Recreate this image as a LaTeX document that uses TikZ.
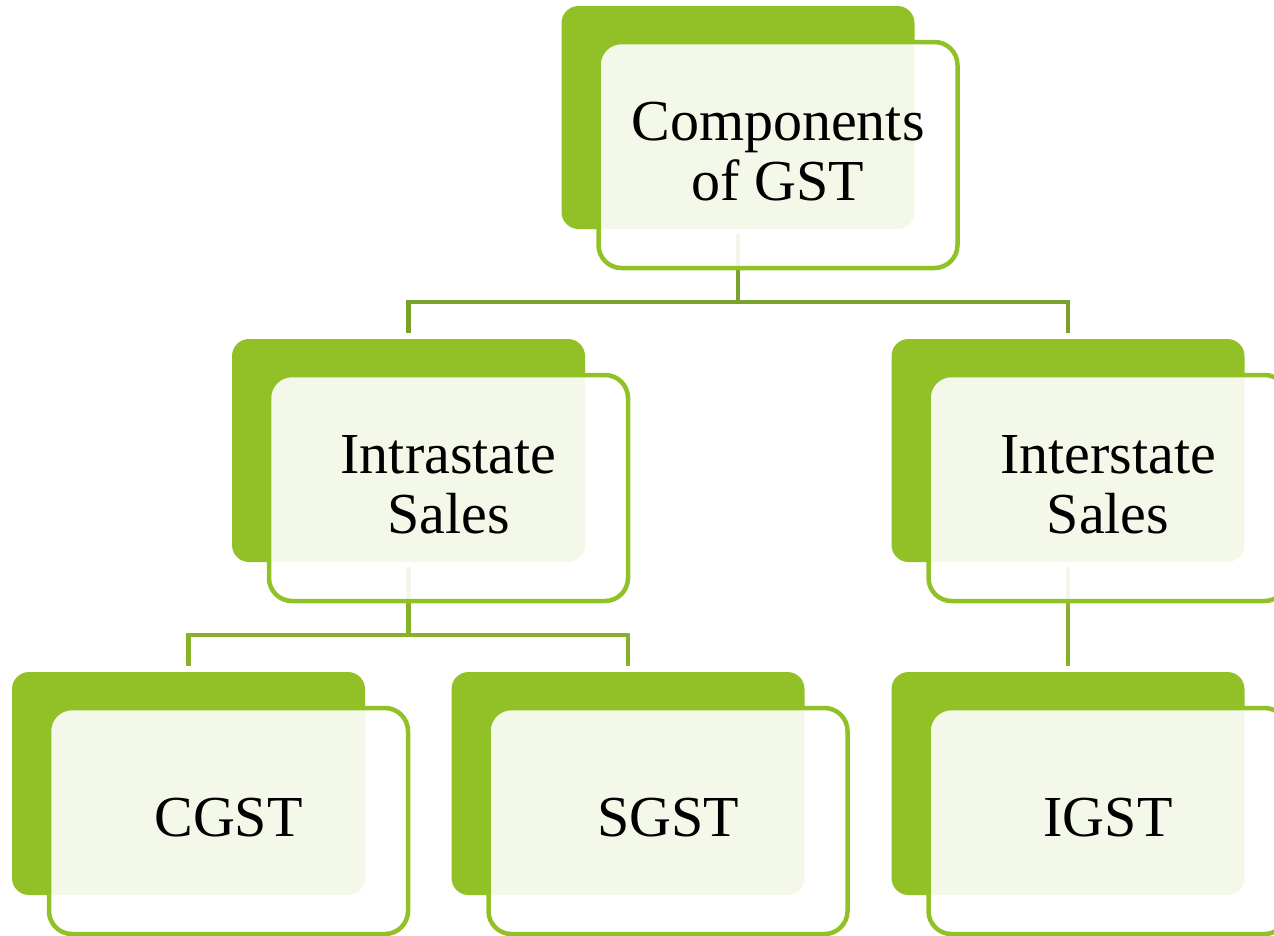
\documentclass[tikz,border=0pt]{standalone}
\usepackage{fontspec}
\setmainfont{Liberation Serif}
\usetikzlibrary{calc}
\definecolor{leafgreen}{HTML}{92C127}
\definecolor{stemdark}{HTML}{78A22A}
\definecolor{stemlight}{HTML}{86B22A}
\tikzset{
  backbox/.style={rectangle,rounded corners=17pt,fill=leafgreen,minimum width=353pt,minimum height=223pt,inner sep=0pt},
  frontbox/.style={rectangle,rounded corners=23pt,draw=leafgreen,line width=4.5pt,fill=white,fill opacity=.9,text opacity=1,
    minimum width=359pt,minimum height=226pt,inner sep=0pt,align=center,text depth=7pt,font=\fontsize{58}{60}\selectfont},
  topline/.style={draw=stemdark,line width=4.5pt},
  subline/.style={draw=stemlight,line width=4.5pt}
}

\begin{document}
\begin{tikzpicture}[x=1pt,y=-1pt]
\useasboundingbox (0,0) rectangle (1274,935);
%back tiles
\node[backbox] (gstb) at (738,117.5) {};
\node[backbox] (intrab) at (408.5,450.5) {};
\node[backbox] (interb) at (1068,450.5) {};
\node[backbox] (cgstb) at (188.5,783.5) {};
\node[backbox] (sgstb) at (628,783.5) {};
\node[backbox] (igstb) at (1068,783.5) {};
%connectors
\coordinate (fork1) at (738,302);
\coordinate (fork2) at (408.5,635);
\draw[topline] ([yshift=-5pt]gstb.south) -- (fork1);
\draw[topline] ([yshift=6pt]intrab.north) |- (fork1) -| ([yshift=6pt]interb.north);
\draw[subline] ([yshift=-5pt]intrab.south) -- (fork2);
\draw[subline] ([yshift=6pt]cgstb.north) |- (fork2) -| ([yshift=6pt]sgstb.north);
\draw[subline] ([yshift=-5pt]interb.south) -- ([yshift=6pt]igstb.north);
%front tiles
\node[frontbox] (gst) at (778,155) {Components\\of GST};
\node[frontbox] (intra) at (448.5,488) {Intrastate\\Sales};
\node[frontbox] (inter) at (1108,488) {Interstate\\Sales};
\node[frontbox] (cgst) at (228.5,821) {CGST};
\node[frontbox] (sgst) at (668,821) {SGST};
\node[frontbox] (igst) at (1108,821) {IGST};
\end{tikzpicture}
\end{document}
